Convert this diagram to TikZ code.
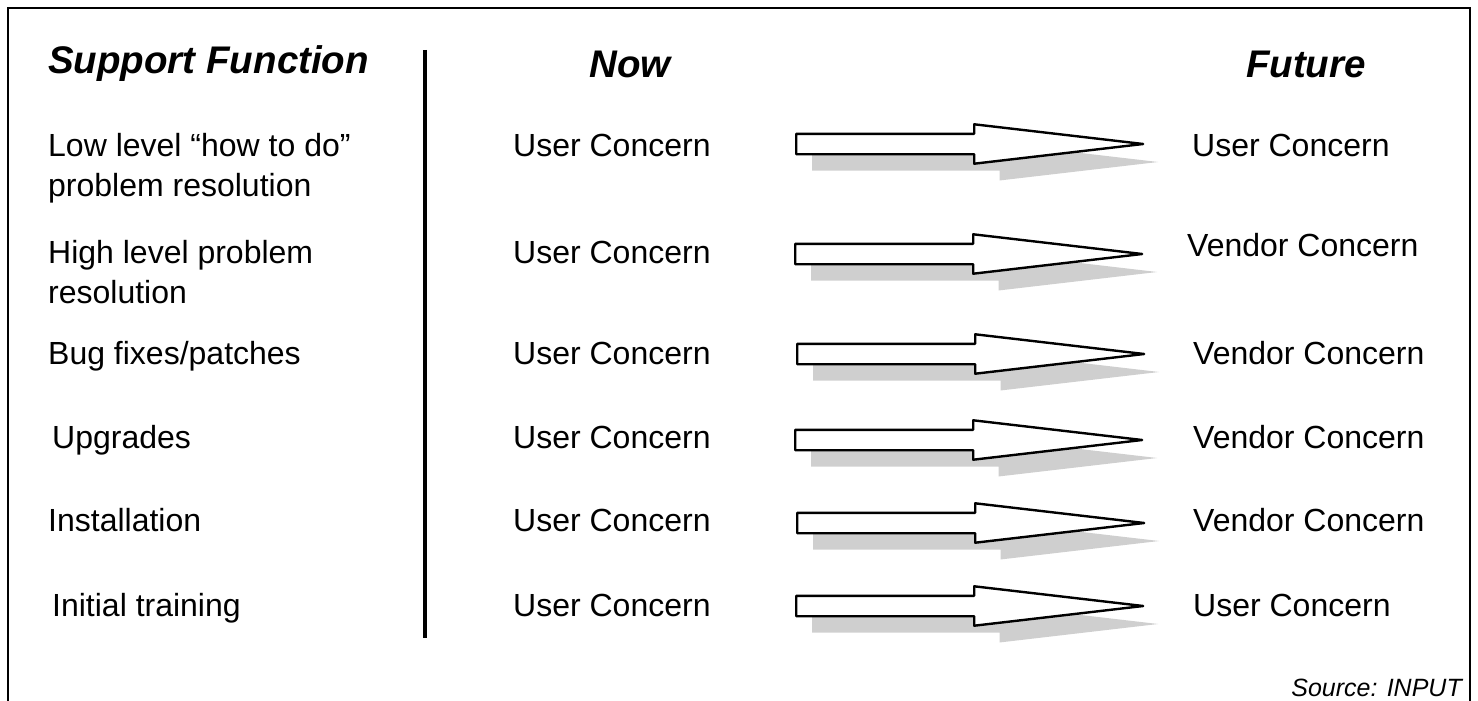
\documentclass[tikz,border=0pt]{standalone}
\usepackage{fontspec}
\setmainfont{Liberation Sans}
\usetikzlibrary{shapes.arrows,positioning}
\tikzstyle{heading} = [anchor=west, inner sep=0pt, font=\fontsize{38.5}{46}\selectfont\bfseries\itshape]
\tikzstyle{funclabel} = [anchor=north west, inner sep=0pt, align=left, font=\fontsize{32}{40}\selectfont]
\tikzstyle{concern} = [anchor=west, inner sep=0pt, font=\fontsize{32}{40}\selectfont]
\tikzstyle{blockarrow} = [single arrow, single arrow head extend=9.5pt, single arrow tip angle=13.3, minimum height=347pt, minimum width=37pt, text height=0pt, text depth=0pt, inner xsep=0pt, inner ysep=9pt, anchor=tail, draw=black, line width=2.4pt, line join=round, fill=white]
\tikzstyle{arrowshadow} = [single arrow, single arrow head extend=9.5pt, single arrow tip angle=13.3, minimum height=346pt, minimum width=37pt, text height=0pt, text depth=0pt, inner xsep=0pt, inner ysep=8pt, anchor=tail, fill=gray!38]
\tikzstyle{divider} = [line width=4.5pt]

\begin{document}
\begin{tikzpicture}[x=1pt,y=-1pt]
\useasboundingbox (0,0) rectangle (1478,701);
\draw [line width=2pt] (8,701) -- (8,8) -- (1470,8) -- (1470,701);

\node (hfunc) [heading] at (48,64) {Support Function};
\node (hnow) [heading, anchor=center] at (630,64) {Now};
\node (hfut) [heading, anchor=center] at (1306,64) {Future};
\coordinate (divtop) at (425,50);
\coordinate (divbot) at (425,638);
\draw [divider] (divtop) -- (divbot);

% row 1
\node (fn1) [funclabel] at (48,133) {Low level ``how to do''\\problem resolution};
\node (now1) [concern] at (513,145) {User Concern};
\node (shd1) [arrowshadow] at (812,162) {};
\node (arr1) [blockarrow] at (795,144) {};
\node (fut1) [concern] at (1192,145) {User Concern};
% row 2
\node (fn2) [funclabel] at (48,240) {High level problem\\resolution};
\node (now2) [concern] at (513,252) {User Concern};
\node (shd2) [arrowshadow] at (811,272) {};
\node (arr2) [blockarrow] at (794,254) {};
\node (fut2) [concern] at (1187,245) {Vendor Concern};
% row 3
\node (fn3) [funclabel] at (48,341) {Bug fixes/patches};
\node (now3) [concern] at (513,353) {User Concern};
\node (shd3) [arrowshadow] at (813,372) {};
\node (arr3) [blockarrow] at (796,354) {};
\node (fut3) [concern] at (1193,353) {Vendor Concern};
% row 4
\node (fn4) [funclabel] at (52,425) {Upgrades};
\node (now4) [concern] at (513,437) {User Concern};
\node (shd4) [arrowshadow] at (811,458) {};
\node (arr4) [blockarrow] at (794,440) {};
\node (fut4) [concern] at (1193,437) {Vendor Concern};
% row 5
\node (fn5) [funclabel] at (48,508) {Installation};
\node (now5) [concern] at (513,520) {User Concern};
\node (shd5) [arrowshadow] at (813,541) {};
\node (arr5) [blockarrow] at (796,523) {};
\node (fut5) [concern] at (1193,520) {Vendor Concern};
% row 6
\node (fn6) [funclabel] at (52,593) {Initial training};
\node (now6) [concern] at (513,605) {User Concern};
\node (shd6) [arrowshadow] at (812,624) {};
\node (arr6) [blockarrow] at (795,606) {};
\node (fut6) [concern] at (1193,605) {User Concern};

\node (source) [anchor=east, inner sep=0pt, font=\fontsize{25}{30}\selectfont\itshape] at (1462,688) {Source: INPUT};

\end{tikzpicture}
\end{document}
